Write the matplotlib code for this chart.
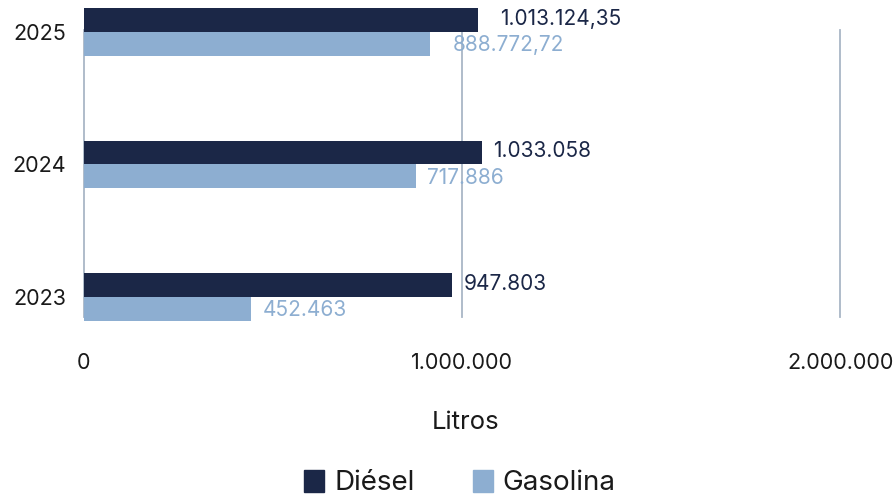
import matplotlib
matplotlib.use('Agg')
import matplotlib.pyplot as plt
from matplotlib.patches import Patch
import numpy as np

#%% Data (bar lengths, labels as printed)
years = ['2023', '2024', '2025']
diesel = [974000, 1053000, 1042000]
gasolina = [442000, 878000, 915000]
diesel_labels = ['947.803', '1.033.058', '1.013.124,35']
gasolina_labels = ['452.463', '717.886', '888.772,72']
x_ticks = [0, 1000000, 2000000]
x_tick_labels = ['0', '1.000.000', '2.000.000']

#%% Style
plt.rcParams['font.family'] = ['Inter', 'DejaVu Sans']
c_diesel = '#1b2747'
c_gasolina = '#8daed1'
c_grid = '#a9b6c6'
c_text = '#1a1a1a'

W, H = 895, 500
fig = plt.figure(figsize=(W/100, H/100), dpi=100)
# axes box in pixels: x 84..848, y 30..317
ax = fig.add_axes([84/W, 1-317/H, (848-84)/W, (317-30)/H])

y = np.arange(len(years))
bh = 0.181
ax.barh(y + bh/2, diesel, height=bh, color=c_diesel, clip_on=False, zorder=3)
ax.barh(y - bh/2, gasolina, height=bh, color=c_gasolina, clip_on=False, zorder=3)

for i in range(len(years)):
    dx = 16 if i == 2 else 8
    ax.annotate(diesel_labels[i], (diesel[i], y[i] + bh/2), xytext=(dx, 1),
                textcoords='offset points', va='center', ha='left',
                fontsize=15, color=c_diesel, annotation_clip=False)
    ax.annotate(gasolina_labels[i], (gasolina[i], y[i] - bh/2), xytext=(dx, -1),
                textcoords='offset points', va='center', ha='left',
                fontsize=15, color=c_gasolina, annotation_clip=False)

ax.set_xlim(0, 2020000)
ax.set_ylim(-0.151, 2.015)
ax.set_xticks(x_ticks)
ax.set_xticklabels(x_tick_labels)
ax.set_yticks(y)
ax.set_yticklabels(years)
ax.tick_params(axis='x', length=0, pad=26, labelsize=15.5, labelcolor=c_text)
ax.tick_params(axis='y', length=0, pad=13, labelsize=15.5, labelcolor=c_text)
for s in ax.spines.values():
    s.set_visible(False)
ax.grid(axis='x', color=c_grid, linewidth=1.3, zorder=0)
for gl in ax.xaxis.get_gridlines():
    gl.set_clip_on(False)
ax.set_axisbelow(True)

ax.set_xlabel('Litros', fontsize=18.5, color=c_text, labelpad=27)

handles = [Patch(color=c_diesel, label='Diésel'), Patch(color=c_gasolina, label='Gasolina')]
fig.legend(handles=handles, loc='center', bbox_to_anchor=(460/W, 1-483/H), ncol=2,
           frameon=False, fontsize=20, handlelength=0.72, handleheight=0.85,
           handletextpad=0.35, columnspacing=2.1, labelcolor=c_text)

fig.savefig('out.png', dpi=100)
